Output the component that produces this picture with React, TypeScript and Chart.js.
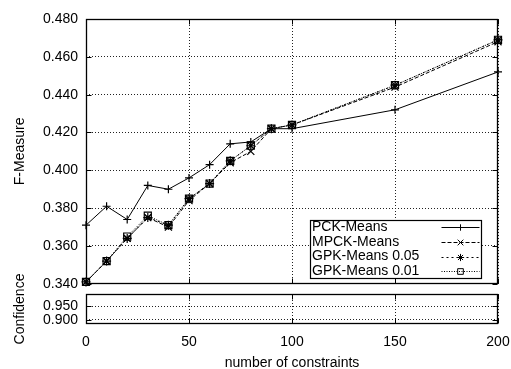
import React, { useEffect, useRef } from 'react';
import { Chart, registerables } from 'chart.js';

Chart.register(...registerables);

// ---- data ----
const constraints = [0, 10, 20, 30, 40, 50, 60, 70, 80, 90, 100, 150, 200];
const pckMeans = [0.371, 0.381, 0.374, 0.392, 0.390, 0.396, 0.403, 0.414, 0.415, 0.422, 0.422, 0.432, 0.452];
const mpckMeans = [0.341, 0.352, 0.364, 0.375, 0.370, 0.384, 0.393, 0.404, 0.410, 0.422, 0.424, 0.444, 0.468];
const gpkMeans005 = [0.341, 0.352, 0.364, 0.375, 0.371, 0.385, 0.393, 0.405, 0.413, 0.422, 0.424, 0.445, 0.469];
const gpkMeans001 = [0.341, 0.352, 0.365, 0.376, 0.371, 0.385, 0.393, 0.405, 0.413, 0.422, 0.424, 0.445, 0.469];
const seriesNames = ['PCK-Means', 'MPCK-Means', 'GPK-Means 0.05', 'GPK-Means 0.01'];
const xTickValues = [0, 50, 100, 150, 200];
const fTickValues = [0.34, 0.36, 0.38, 0.40, 0.42, 0.44, 0.46, 0.48];
const confTickValues = [0.9, 0.95];
const xTitle = 'number of constraints';
const fTitle = 'F-Measure';
const confTitle = 'Confidence';

const FONT = "'Liberation Sans', Arial, Helvetica, sans-serif";

type Style = { dash: number[]; point: string; radius: number };
const styles: Style[] = [
  { dash: [], point: 'cross', radius: 4 },
  { dash: [4, 2], point: 'crossRot', radius: 5 },
  { dash: [2, 3], point: 'star', radius: 4.5 },
  { dash: [1, 1.5], point: 'rect', radius: 5 },
];

function drawMarker(ctx: CanvasRenderingContext2D, kind: string, x: number, y: number, r: number) {
  ctx.beginPath();
  const d = r * Math.SQRT1_2;
  if (kind === 'cross' || kind === 'star') {
    ctx.moveTo(x - r, y); ctx.lineTo(x + r, y);
    ctx.moveTo(x, y - r); ctx.lineTo(x, y + r);
  }
  if (kind === 'crossRot' || kind === 'star') {
    ctx.moveTo(x - d, y - d); ctx.lineTo(x + d, y + d);
    ctx.moveTo(x - d, y + d); ctx.lineTo(x + d, y - d);
  }
  if (kind === 'rect') {
    ctx.rect(x - d, y - d, 2 * d, 2 * d);
  }
  ctx.stroke();
}

const framePlugin = {
  id: 'frame',
  afterDraw(chart: any) {
    const { ctx, chartArea, scales } = chart;
    const left = Math.round(chartArea.left) + 0.5;
    const right = Math.round(chartArea.right) - 0.5;
    const top = Math.round(chartArea.top) + 0.5;
    const bottom = Math.round(chartArea.bottom) - 0.5;
    ctx.save();
    ctx.setLineDash([]);
    ctx.strokeStyle = '#000';
    ctx.lineWidth = 1;
    ctx.beginPath();
    const xs = scales.x;
    xs.ticks.forEach((t: any) => {
      const px = Math.round(xs.getPixelForValue(t.value)) + 0.5;
      ctx.moveTo(px, bottom); ctx.lineTo(px, bottom - 5);
      ctx.moveTo(px, top); ctx.lineTo(px, top + 5);
    });
    const ys = scales.y;
    ys.ticks.forEach((t: any) => {
      const py = Math.round(ys.getPixelForValue(t.value)) + 0.5;
      ctx.moveTo(left, py); ctx.lineTo(left + 5, py);
      ctx.moveTo(right, py); ctx.lineTo(right - 5, py);
    });
    ctx.stroke();
    ctx.lineWidth = 1.3;
    ctx.strokeRect(left, top, right - left, bottom - top);
    ctx.restore();
  },
};

const legendPlugin = {
  id: 'legendBox',
  afterDraw(chart: any) {
    const { ctx, chartArea } = chart;
    const w = 171, h = 58;
    const x1 = Math.round(chartArea.right) - 17 - w + 0.5;
    const y1 = Math.round(chartArea.bottom) - 6 - h + 0.5;
    ctx.save();
    ctx.fillStyle = '#fff';
    ctx.fillRect(x1, y1, w, h);
    ctx.strokeStyle = '#000';
    ctx.lineWidth = 1.2;
    ctx.setLineDash([]);
    ctx.strokeRect(x1, y1, w, h);
    ctx.font = `14px ${FONT}`;
    ctx.fillStyle = '#000';
    ctx.textBaseline = 'middle';
    ctx.textAlign = 'left';
    seriesNames.forEach((name, i) => {
      const cy = y1 + 6.5 + i * 14.8;
      ctx.fillText(name, x1 + 1.5, cy);
      const st = styles[i];
      ctx.lineWidth = 1;
      ctx.setLineDash(st.dash);
      ctx.beginPath();
      ctx.moveTo(x1 + 131, Math.round(cy) + 0.5);
      ctx.lineTo(x1 + 169, Math.round(cy) + 0.5);
      ctx.stroke();
      ctx.setLineDash([]);
      drawMarker(ctx, st.point, x1 + 150, Math.round(cy) + 0.5, st.radius * 0.8);
    });
    ctx.restore();
  },
};

function fixedTicks(values: number[]) {
  return (scale: any) => {
    scale.ticks = values.map((v) => ({ value: v }));
  };
}

export default function App() {
  const topRef = useRef<HTMLCanvasElement>(null);
  const botRef = useRef<HTMLCanvasElement>(null);

  useEffect(() => {
    Chart.defaults.font.family = FONT;
    Chart.defaults.font.size = 14;
    Chart.defaults.color = '#000';

    const seriesValues = [pckMeans, mpckMeans, gpkMeans005, gpkMeans001];
    const datasets = seriesValues.map((vals, i) => ({
      label: seriesNames[i],
      data: constraints.map((x, j) => ({ x, y: vals[j] })),
      borderColor: '#000',
      backgroundColor: 'rgba(0,0,0,0)',
      borderWidth: 1,
      borderDash: styles[i].dash,
      pointStyle: styles[i].point,
      pointRadius: styles[i].radius,
      pointBorderWidth: 1.2,
      pointBorderColor: '#000',
      pointBackgroundColor: 'rgba(0,0,0,0)',
      tension: 0,
      clip: false,
    }));

    const gridCommon = { color: '#222', lineWidth: 1, drawTicks: false };
    const borderCommon = { display: false, dash: [1, 2] };

    const top = new Chart(topRef.current!, {
      type: 'line',
      data: { datasets: datasets as any },
      options: {
        animation: false,
        responsive: false,
        maintainAspectRatio: false,
        layout: { padding: { left: 0, right: 13, top: 19, bottom: 6 } },
        plugins: { legend: { display: false }, tooltip: { enabled: false } },
        scales: {
          x: {
            type: 'linear',
            min: 0,
            max: 200,
            afterBuildTicks: fixedTicks(xTickValues),
            ticks: { display: false },
            grid: gridCommon,
            border: borderCommon,
            afterFit: (s: any) => { s.height = 0; s.paddingLeft = 0; s.paddingRight = 0; },
          },
          y: {
            type: 'linear',
            min: 0.34,
            max: 0.48,
            afterBuildTicks: fixedTicks(fTickValues),
            ticks: { padding: 8, callback: (v: any) => Number(v).toFixed(3), font: { size: 14 }, color: '#000' },
            grid: gridCommon,
            border: borderCommon,
            title: { display: true, text: fTitle, padding: { top: 12, bottom: 0 }, font: { size: 14 }, color: '#000' },
            afterFit: (s: any) => { s.width = 86; s.paddingTop = 0; s.paddingBottom = 0; },
          },
        },
      } as any,
      plugins: [framePlugin, legendPlugin],
    });

    const bot = new Chart(botRef.current!, {
      type: 'line',
      data: { datasets: [] },
      options: {
        animation: false,
        responsive: false,
        maintainAspectRatio: false,
        layout: { padding: { left: 0, right: 13, top: 44, bottom: 0 } },
        plugins: { legend: { display: false }, tooltip: { enabled: false } },
        scales: {
          x: {
            type: 'linear',
            min: 0,
            max: 200,
            afterBuildTicks: fixedTicks(xTickValues),
            ticks: { padding: 10, font: { size: 14 }, color: '#000', maxRotation: 0 },
            grid: gridCommon,
            border: borderCommon,
            title: { display: true, text: xTitle, padding: { top: 0, bottom: -3 }, font: { size: 14 }, color: '#000' },
            afterFit: (s: any) => { s.height = 45; s.paddingLeft = 0; s.paddingRight = 0; },
          },
          y: {
            type: 'linear',
            min: 0.884,
            max: 0.996,
            afterBuildTicks: fixedTicks(confTickValues),
            ticks: { padding: 8, callback: (v: any) => Number(v).toFixed(3), font: { size: 14 }, color: '#000' },
            grid: gridCommon,
            border: borderCommon,
            title: { display: true, text: confTitle, padding: { top: 12, bottom: 0 }, font: { size: 14 }, color: '#000' },
            afterFit: (s: any) => { s.width = 86; s.paddingTop = 0; s.paddingBottom = 0; },
          },
        },
      } as any,
      plugins: [framePlugin],
    });

    return () => {
      top.destroy();
      bot.destroy();
    };
  }, []);

  return (
    <div style={{ position: 'fixed', left: 0, top: 0, width: 511, height: 369, background: '#fff' }}>
      <canvas ref={topRef} width={511} height={290} style={{ position: 'absolute', left: 0, top: 0, display: 'block' }} />
      <canvas ref={botRef} width={511} height={119} style={{ position: 'absolute', left: 0, top: 250, display: 'block' }} />
    </div>
  );
}
